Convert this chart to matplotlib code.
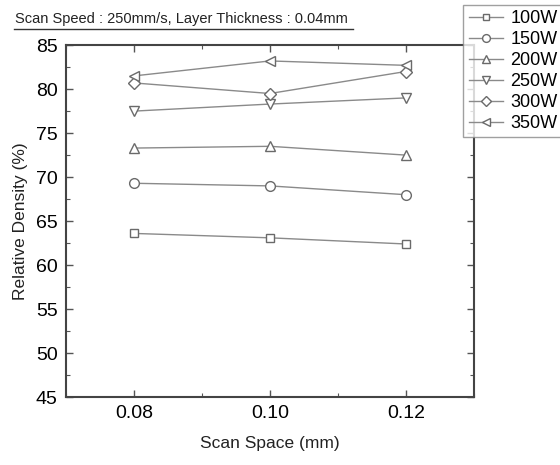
import matplotlib
matplotlib.use("Agg")
import matplotlib.pyplot as plt
from matplotlib.lines import Line2D
from matplotlib.ticker import MultipleLocator

plt.rcParams['font.family'] = ['Liberation Sans', 'DejaVu Sans']

scan_space = [0.08, 0.10, 0.12]
labels = ['100W', '150W', '200W', '250W', '300W', '350W']
d100 = [63.6, 63.1, 62.4]
d150 = [69.3, 69.0, 68.0]
d200 = [73.3, 73.5, 72.5]
d250 = [77.5, 78.3, 79.0]
d300 = [80.7, 79.5, 82.0]
d350 = [81.5, 83.2, 82.7]
series = [d100, d150, d200, d250, d300, d350]
markers = ['s', 'o', '^', 'v', 'D', '<']
msizes = [6, 7, 7, 7, 6, 7]

fig = plt.figure(figsize=(5.6, 4.65), dpi=100)
ax = fig.add_axes([0.118, 0.146, 0.728, 0.757])

for y, m, ms, lab in zip(series, markers, msizes, labels):
    ax.plot(scan_space, y, color='#8a8a8a', lw=1.0, marker=m, ms=ms,
            mfc='white', mec='#6a6a6a', mew=1.0, label=lab)

ax.set_xlim(0.07, 0.13)
ax.set_ylim(45, 85)
ax.set_xticks([0.08, 0.10, 0.12])
ax.set_xticklabels(['0.08', '0.10', '0.12'])
ax.xaxis.set_minor_locator(MultipleLocator(0.01))
ax.yaxis.set_major_locator(MultipleLocator(5))
ax.yaxis.set_minor_locator(MultipleLocator(2.5))
ax.tick_params(which='both', direction='in', top=True, right=True, color='#555555')
ax.tick_params(which='major', length=5, width=1.0, labelsize=14, pad=6)
ax.tick_params(which='minor', length=3, width=0.8)
for s in ax.spines.values():
    s.set_color('#444444')
    s.set_linewidth(1.5)

ax.set_xlabel('Scan Space (mm)', fontsize=12.5, color='#222222', labelpad=10)
ax.set_ylabel('Relative Density (%)', fontsize=12.5, color='#222222', labelpad=6)

fig.text(0.027, 0.945, 'Scan Speed : 250mm/s, Layer Thickness : 0.04mm',
         fontsize=10.5, color='#222222', ha='left', va='bottom')
fig.add_artist(Line2D([0.025, 0.63], [0.938, 0.938], transform=fig.transFigure,
                      color='#333333', lw=1.0))

leg = fig.legend(loc='upper right', bbox_to_anchor=(1.005, 0.99), frameon=True,
                 fancybox=False, edgecolor='#888888', fontsize=13,
                 handlelength=1.9, handletextpad=0.4, labelspacing=0.22,
                 borderpad=0.3, borderaxespad=0.0, markerscale=0.8)
leg.get_frame().set_linewidth(1.0)

fig.savefig('out.png', dpi=100)
